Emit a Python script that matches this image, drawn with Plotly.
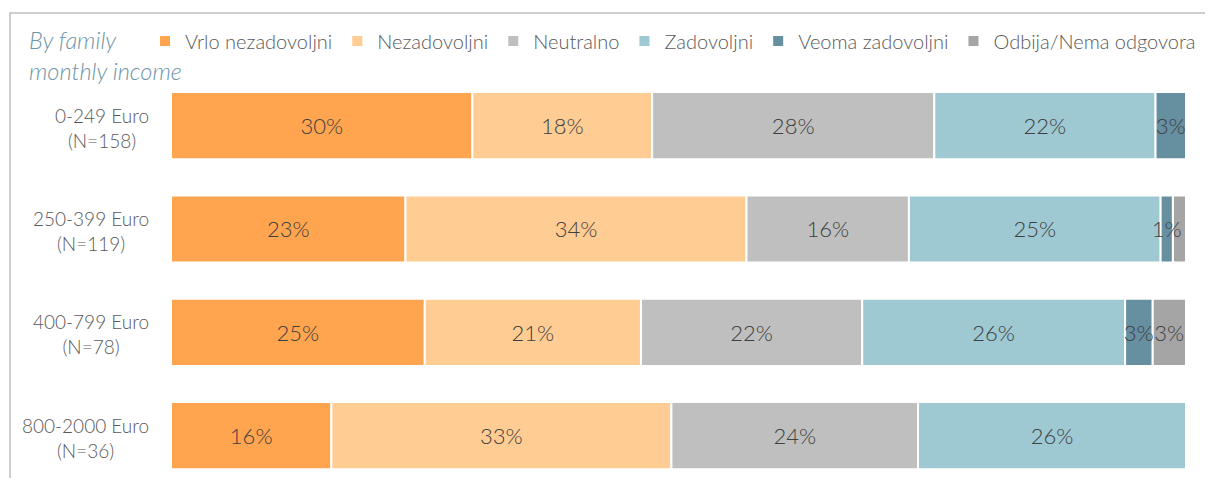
import plotly.graph_objects as go
import numpy as np

categories = ["0-249 Euro<br>(N=158)", "250-399 Euro<br>(N=119)", "400-799 Euro<br>(N=78)", "800-2000 Euro<br>(N=36)"]
series_names = ["Vrlo nezadovoljni", "Nezadovoljni", "Neutralno", "Zadovoljni", "Veoma zadovoljni", "Odbija/Nema odgovora"]
vrlo_nezadovoljni = [29.7, 23.1, 25.0, 15.8]
nezadovoljni = [17.7, 33.6, 21.3, 33.5]
neutralno = [27.8, 16.0, 21.8, 24.3]
zadovoljni = [21.8, 24.8, 25.9, 26.4]
veoma_zadovoljni = [3.0, 1.2, 2.7, 0]
odbija = [0, 1.3, 3.3, 0]
labels_vrlo = ["30%", "23%", "25%", "16%"]
labels_nez = ["18%", "34%", "21%", "33%"]
labels_neu = ["28%", "16%", "22%", "24%"]
labels_zad = ["22%", "25%", "26%", "26%"]
labels_veoma = ["3%", "1%", "3%", ""]
labels_odb = ["", "", "3%", ""]

colors = ["#FFA54F", "#FFCC93", "#BFBFBF", "#9EC8D2", "#668FA0", "#A5A5A5"]
values = [vrlo_nezadovoljni, nezadovoljni, neutralno, zadovoljni, veoma_zadovoljni, odbija]
labels = [labels_vrlo, labels_nez, labels_neu, labels_zad, labels_veoma, labels_odb]

# stacked bases (cumulative sums)
arr = np.array(values, dtype=float)
bases = np.vstack([np.zeros(arr.shape[1]), np.cumsum(arr, axis=0)[:-1]])

W, H = 1205, 470
OX, OY = 8, 8  # page body offset
FONT = "Lato"
fig = go.Figure()
draw_order = [0, 1, 2, 3, 5, 4]  # draw the last segment before "Veoma" so its label stays on top
for i in draw_order:
    fig.add_trace(go.Bar(
        y=categories, x=values[i], base=bases[i], name=series_names[i], orientation="h",
        legendrank=i + 1,
        marker=dict(color=colors[i], line=dict(color="white", width=2)),
        text=labels[i], textposition="inside", insidetextanchor="middle",
        textangle=0, cliponaxis=False,
        textfont=dict(family=FONT, size=22, color="#404040", weight=300),
    ))

fig.update_layout(
    barmode="overlay", bargap=0.35,
    width=W, height=H,
    margin=dict(l=0, r=0, t=0, b=0, autoexpand=False),
    paper_bgcolor="white", plot_bgcolor="white",
    uniformtext=dict(minsize=22, mode="show"),
    xaxis=dict(domain=[(171 - OX) / W, (1186 - OX) / W], range=[0, 100], visible=False),
    yaxis=dict(domain=[0, (H - (74 - OY)) / H], range=[3.41, -0.5], showgrid=False,
               zeroline=False, showline=False, ticks="", showticklabels=False,
               automargin=False),
    showlegend=True,
    legend=dict(orientation="h", x=(145 - OX) / W, xanchor="left", y=1 - (41 - OY) / H, yanchor="middle",
                traceorder="normal", itemwidth=30,
                font=dict(family=FONT, size=20, color="#595959", weight=300),
                bgcolor="rgba(0,0,0,0)"),
    font=dict(family=FONT),
)

# category labels (centred two-line text, right edge left of the bars)
for cat in categories:
    fig.add_annotation(
        text=cat, xref="paper", yref="y", x=(151 - OX) / W, y=cat,
        xanchor="right", yanchor="middle", align="center", showarrow=False,
        yshift=-2,
        font=dict(family=FONT, size=19, color="#595959", weight=300),
    )

fig.add_annotation(
    text="By family<br>monthly income", xref="paper", yref="paper",
    x=(27 - OX) / W, y=1 - (24 - OY) / H, xanchor="left", yanchor="top", align="left",
    showarrow=False,
    font=dict(family=FONT, size=23.5, color="#6E95A8", style="italic", weight=300),
)

fig.add_shape(type="rect", xref="paper", yref="paper",
              x0=(10 - OX) / W, x1=(1212 - OX) / W, y0=-0.1, y1=1 - (13 - OY) / H,
              line=dict(color="#BFBFBF", width=1.5), fillcolor="rgba(0,0,0,0)", layer="below")

fig.write_html("out.html")
